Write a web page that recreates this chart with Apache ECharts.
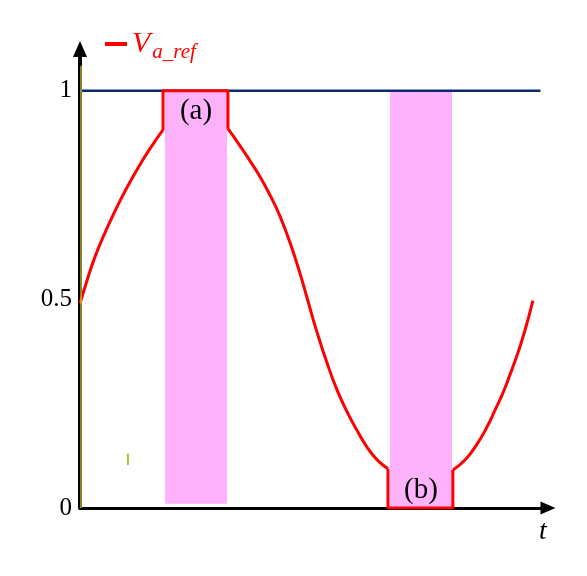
<!DOCTYPE html>
<html>
<head>
<meta charset="utf-8">
<script src="https://cdn.jsdelivr.net/npm/echarts@6/dist/echarts.min.js"></script>
<style>
  html, body { margin: 0; padding: 0; background: #fff; }
  #chart { width: 587px; height: 576px; }
</style>
</head>
<body>
<div id="chart"></div>
<script>
// phase in degrees (one period = 360), value normalised 0..1
var riseX = [0, 6.4, 11.7, 18.3, 24.9, 32.8, 40.8, 48.7, 56.7, 66.0]
var riseY = [0.49, 0.553, 0.600, 0.649, 0.693, 0.742, 0.787, 0.828, 0.866, 0.906]
var fallX = [117.6, 127.2, 135.1, 143.1, 151.0, 159.0, 166.9, 174.8, 181.2, 188.3, 196.3, 204.3, 212.2, 220.2, 228.1, 236.0, 244.8]
var fallY = [0.909, 0.868, 0.832, 0.794, 0.750, 0.699, 0.636, 0.563, 0.496, 0.422, 0.348, 0.283, 0.231, 0.186, 0.146, 0.116, 0.094]
var rise2X = [296.4, 306.0, 314.7, 323.5, 329.8, 336.2, 341.7, 347.4, 353.7, 360.0]
var rise2Y = [0.091, 0.115, 0.149, 0.194, 0.234, 0.276, 0.319, 0.366, 0.426, 0.497]
var clampAX = [66.0, 66.0, 117.6, 117.6]
var clampAY = [0.906, 1, 1, 0.909]
var clampBX = [244.8, 244.8, 296.4, 296.4]
var clampBY = [0.094, 0, 0, 0.091]

// saturation regions
var bandStart = [67.6, 246.4]
var bandEnd = [116.9, 295.7]
var bandLow = [0.01, 0]
var bandHigh = [1, 1]
var bandLabels = ['(a)', '(b)']

// reference level 1
var refX = [0, 366]
var refY = [1, 1]

var yTicks = [0, 0.5, 1]

function zip(xs, ys) {
  return xs.map(function (x, i) { return [x, ys[i]] })
}

var serif = 'Liberation Serif'
var red = '#ff0000'

var chart = echarts.init(document.getElementById('chart'))

var bands = bandStart.map(function (s, i) {
  return [
    {
      xAxis: s, yAxis: bandLow[i], name: bandLabels[i],
      label: {
        position: i === 0 ? 'insideTop' : 'insideBottom',
        distance: i === 0 ? 6 : 3
      }
    },
    { xAxis: bandEnd[i], yAxis: bandHigh[i] }
  ]
})

function redLine(xs, ys, smooth) {
  return {
    name: 'Va',
    type: 'line',
    data: zip(xs, ys),
    smooth: smooth,
    symbol: 'none',
    lineStyle: { color: red, width: 3 },
    itemStyle: { color: red },
    z: 5
  }
}

chart.setOption({
  animation: false,
  grid: { left: 80, right: 39, top: 49, bottom: 68 },
  legend: {
    data: ['Va'],
    left: 100,
    top: 24,
    icon: 'rect',
    itemWidth: 22,
    itemHeight: 4,
    itemGap: 10,
    formatter: function () { return '{v|V}{s|a_ref}' },
    textStyle: {
      rich: {
        v: { fontFamily: serif, fontStyle: 'italic', fontSize: 30, color: red, padding: [0, 2, 0, 0] },
        s: { fontFamily: serif, fontStyle: 'italic', fontSize: 21, color: red, padding: [16, 0, 0, 0] }
      }
    }
  },
  xAxis: {
    type: 'value',
    min: 0,
    max: 372,
    splitLine: { show: false },
    axisTick: { show: false },
    axisLabel: { show: false },
    axisLine: {
      onZero: false,
      symbol: ['none', 'triangle'],
      symbolSize: [13, 15],
      lineStyle: { color: '#000', width: 3 }
    },
    name: 't',
    nameLocation: 'end',
    nameGap: -9,
    nameTextStyle: {
      fontFamily: serif, fontStyle: 'italic', fontSize: 28, color: '#000',
      verticalAlign: 'top', padding: [10, 0, 0, 0]
    }
  },
  yAxis: {
    type: 'value',
    min: 0,
    max: 1.1,
    splitLine: { show: false },
    axisTick: { show: false },
    axisLine: {
      symbol: ['none', 'triangle'],
      symbolSize: [14, 16],
      lineStyle: { color: '#000', width: 4 }
    },
    axisLabel: {
      customValues: yTicks,
      formatter: function (v) { return String(v) },
      fontFamily: serif,
      fontSize: 25,
      color: '#000',
      margin: 8
    }
  },
  series: [
    {
      name: 'bands',
      type: 'line',
      data: [],
      markArea: {
        silent: true,
        itemStyle: { color: '#ffb2fc' },
        label: { show: true, fontFamily: serif, fontSize: 29, color: '#000' },
        data: bands
      }
    },
    {
      name: 'ref',
      type: 'line',
      data: zip(refX, refY),
      symbol: 'none',
      lineStyle: { color: '#0b2a6e', width: 2.5 },
      z: 4
    },
    {
      name: 'axisStripe',
      type: 'line',
      data: [[0.8, 0], [0.8, 1.06]],
      symbol: 'none',
      lineStyle: { color: '#e0e030', width: 1.2 },
      z: 6
    },
    {
      name: 'mark',
      type: 'line',
      data: [[38.1, 0.103], [38.1, 0.13]],
      symbol: 'none',
      lineStyle: { color: '#b8b840', width: 2 },
      z: 6
    },
    redLine(riseX, riseY, 0.5),
    redLine(clampAX, clampAY, false),
    redLine(fallX, fallY, 0.5),
    redLine(clampBX, clampBY, false),
    redLine(rise2X, rise2Y, 0.5)
  ]
})
</script>
</body>
</html>
